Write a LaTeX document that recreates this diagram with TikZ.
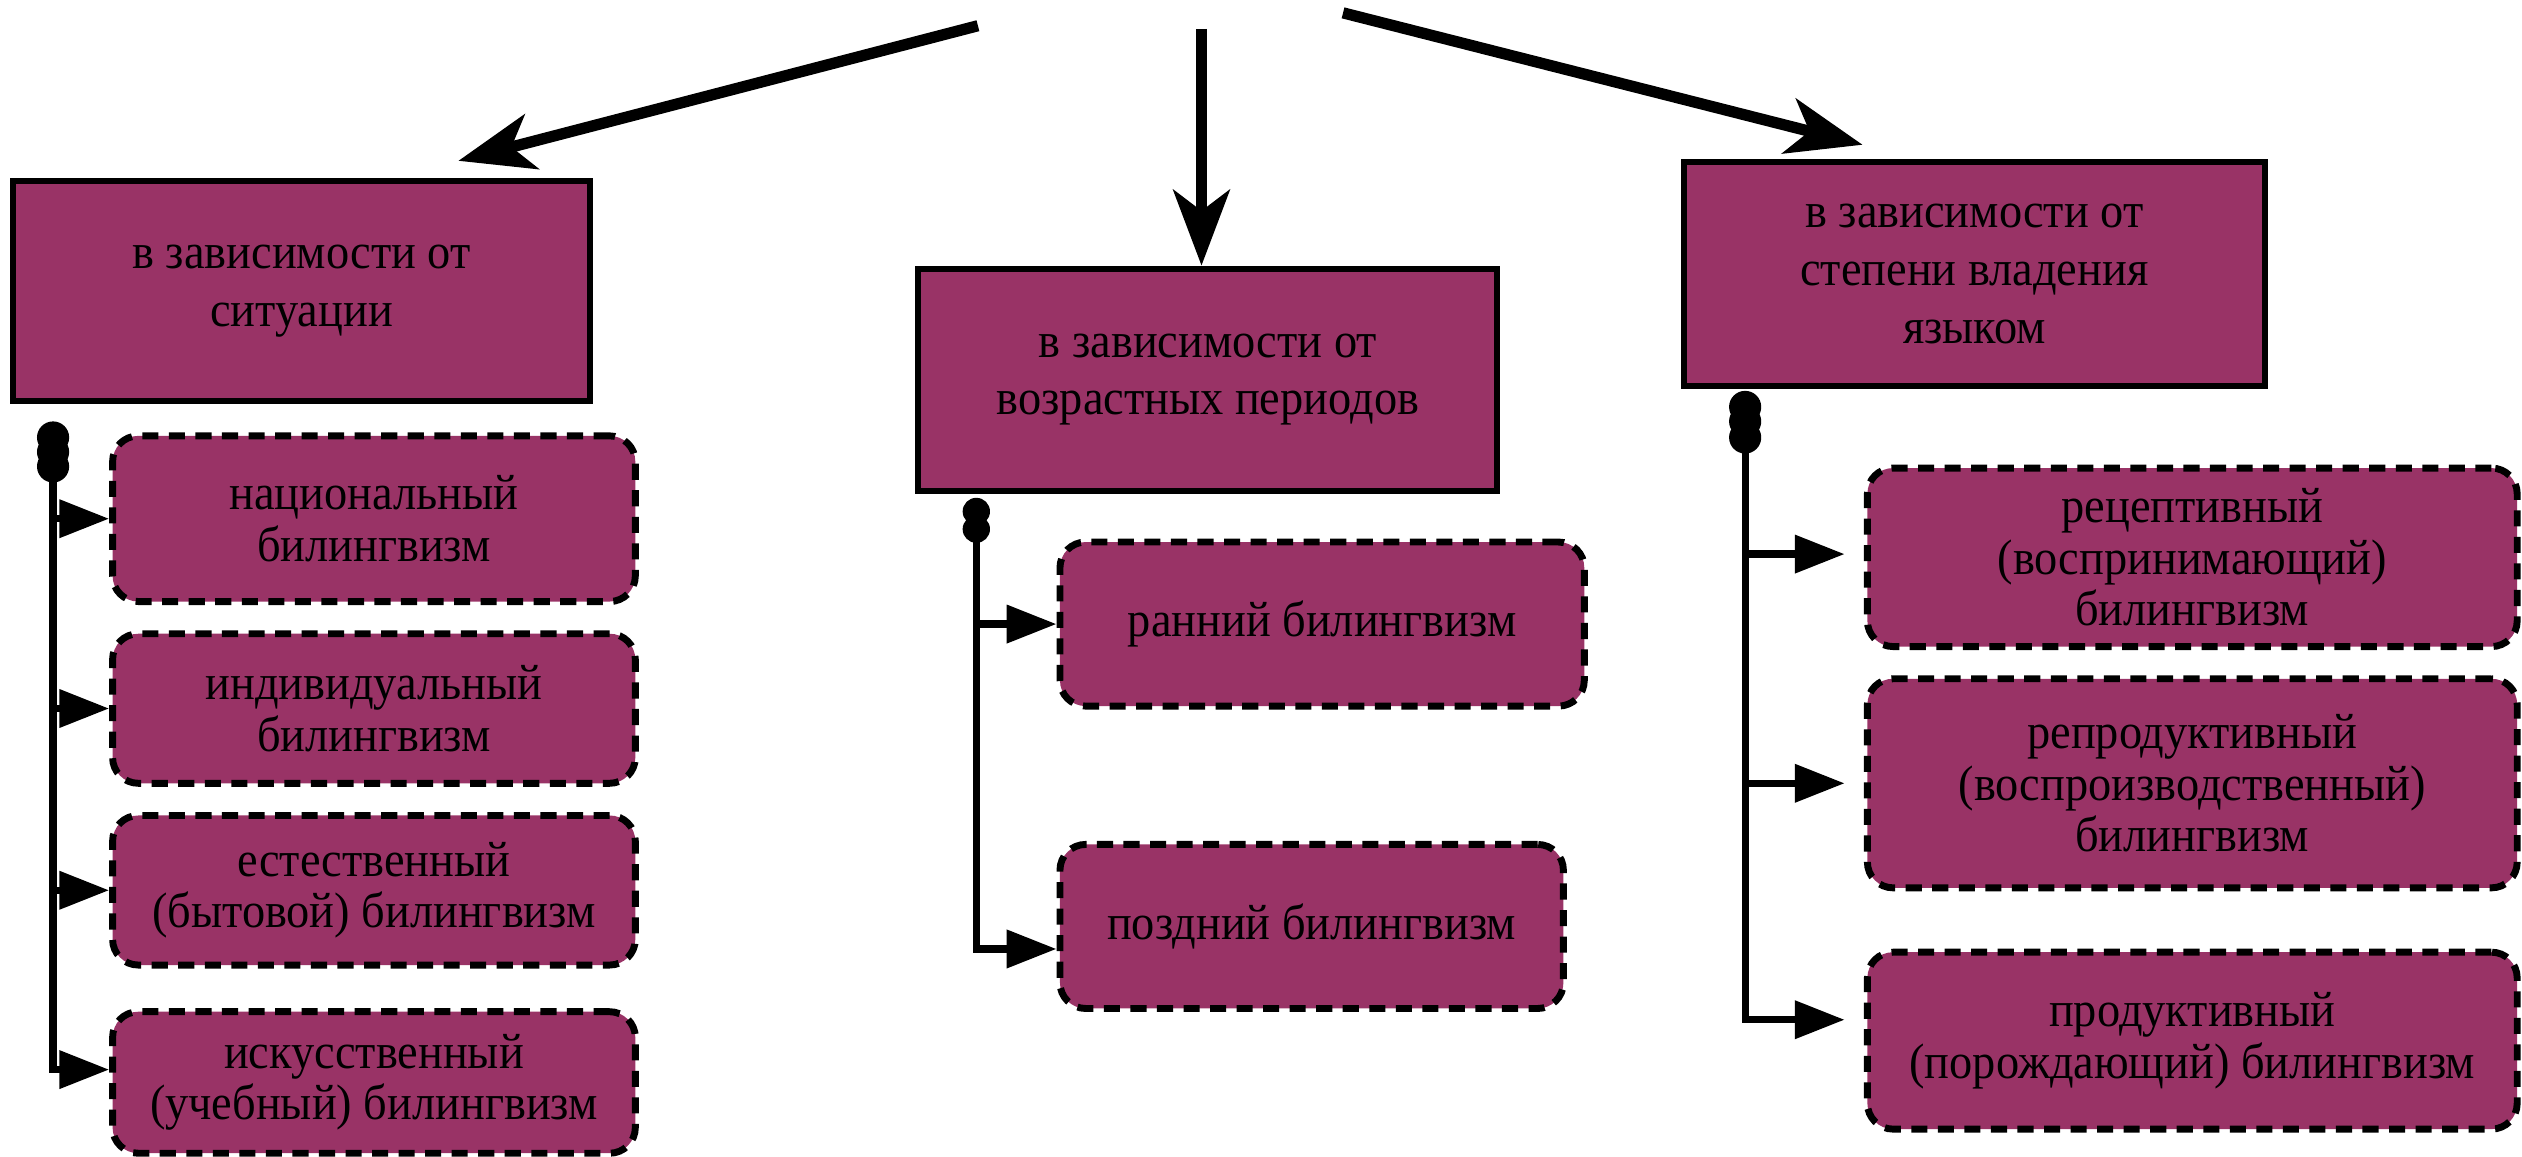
\documentclass[tikz,border=0pt]{standalone}
\usepackage{fontspec}
\setmainfont{Liberation Serif}[FakeStretch=0.93]
\usetikzlibrary{arrows.meta}
\definecolor{plum}{RGB}{153,51,102}
\begin{document}
\begin{tikzpicture}[x=1pt,y=-1pt,
  head/.style={draw=black, line width=3.7pt, fill=plum, align=center,
    font=\fontsize{31}{36}\selectfont, inner sep=0pt},
  leaf/.style={draw=black, line width=4.3pt, dash pattern=on 10pt off 6.5pt,
    rounded corners=16pt, fill=plum, align=center,
    font=\fontsize{31}{32}\selectfont, inner sep=0pt},
  conn/.style={line width=4.5pt, -{Triangle[length=31pt,width=23pt]}},
  big/.style={line width=7pt, -{Stealth[length=47pt,width=35pt,inset=13pt]}},
  dotA/.style={circle, fill=black, inner sep=0pt, minimum size=20pt},
  dotB/.style={circle, fill=black, inner sep=0pt, minimum size=17pt}
]
\useasboundingbox (0,0) rectangle (1568,719);

% headers
\node[head, minimum width=359pt, minimum height=137pt] (hA) at (187.5,181) {в зависимости от\\ситуации};
\node[head, minimum width=360pt, minimum height=138pt] (hB) at (751,236) {в зависимости от\\возрастных периодов};
\node[head, minimum width=361pt, minimum height=139pt] (hC) at (1227.5,170.5) {в зависимости от\\степени владения\\языком};

% left leaves
\node[leaf, minimum width=325pt, minimum height=103pt] (l1) at (232.5,322.5) {национальный\\билингвизм};
\node[leaf, minimum width=325pt, minimum height=93pt] (l2) at (232.5,440.5) {индивидуальный\\билингвизм};
\node[leaf, minimum width=325pt, minimum height=93pt] (l3) at (232.5,553.5) {естественный\\(бытовой) билингвизм};
\node[leaf, minimum width=325pt, minimum height=88pt] (l4) at (232.5,673) {искусственный\\(учебный) билингвизм};

% centre leaves
\node[leaf, minimum width=326pt, minimum height=102pt] (c1) at (822,388) {ранний билингвизм};
\node[leaf, minimum width=313pt, minimum height=102pt] (c2) at (815.5,576) {поздний билингвизм};

% right leaves
\node[leaf, minimum width=404pt, minimum height=111pt] (r1) at (1363,346.5) {рецептивный\\(воспринимающий)\\билингвизм};
\node[leaf, minimum width=404pt, minimum height=130pt] (r2) at (1363,487) {репродуктивный\\(воспроизводственный)\\билингвизм};
\node[leaf, minimum width=404pt, minimum height=110pt] (r3) at (1363,647) {продуктивный\\(порождающий) билингвизм};

% top arrows
\coordinate (o1) at (608,16);
\coordinate (e1) at (285,100);
\coordinate (o2) at (747,18);
\coordinate (o3) at (835,8);
\coordinate (e3) at (1158,90);
\draw[big] (o1) -- (e1);
\draw[big] (o2) -- (o2 |- hB.north);
\draw[big] (o3) -- (e3);

% left connectors
\coordinate (sA1) at (33,272);
\coordinate (sA2) at (33,281);
\coordinate (sA3) at (33,290);
\draw[conn] (sA1) |- (l1.west);
\draw[conn] (sA2) |- (l2.west);
\draw[conn] (sA3) |- (l3.west);
\draw[conn] (sA3) |- ([yshift=8pt]l4.west);
\node[dotA] (dA1) at (sA1) {};
\node[dotA] (dA2) at (sA2) {};
\node[dotA] (dA3) at (sA3) {};

% centre connectors
\coordinate (sB1) at (607,318);
\coordinate (sB2) at (607,329);
\draw[conn] (sB1) |- (c1.west);
\draw[conn] (sB2) |- ([yshift=-14pt]c2.west);
\node[dotB] (dB1) at (sB1) {};
\node[dotB] (dB2) at (sB2) {};

% right connectors
\coordinate (sC1) at (1085,253);
\coordinate (sC2) at (1085,262);
\coordinate (sC3) at (1085,272);
\draw[conn, shorten >=12pt] (sC1) |- ([yshift=2pt]r1.west);
\draw[conn, shorten >=12pt] (sC2) |- (r2.west);
\draw[conn, shorten >=12pt] (sC3) |- ([yshift=13pt]r3.west);
\node[dotA] (dC1) at (sC1) {};
\node[dotA] (dC2) at (sC2) {};
\node[dotA] (dC3) at (sC3) {};
\end{tikzpicture}
\end{document}
